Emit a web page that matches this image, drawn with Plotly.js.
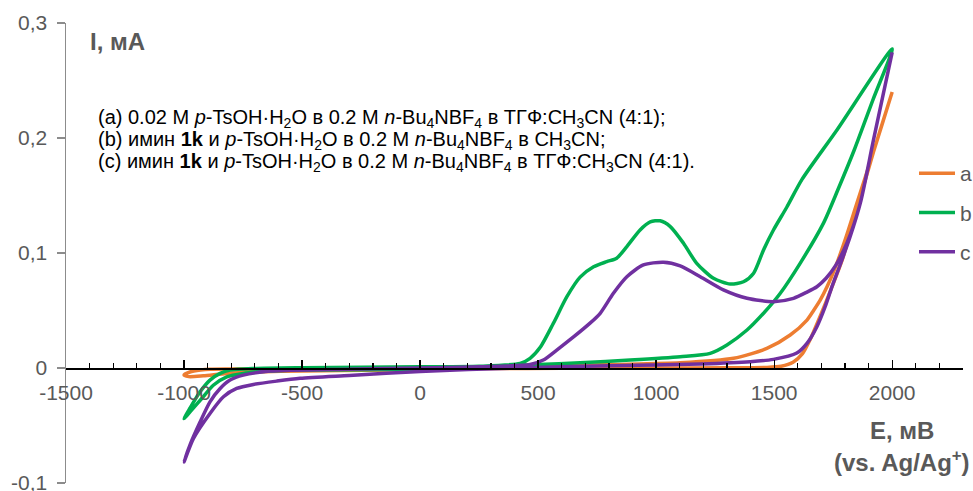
<!DOCTYPE html>
<html>
<head>
<meta charset="utf-8">
<script src="https://cdn.plot.ly/plotly-3.0.1.min.js"></script>
<style>html,body{margin:0;padding:0;background:#fff;}#chart{width:973px;height:491px;}</style>
</head>
<body>
<div id="chart"></div>
<script>
// Series a (orange)
const xA = [-1000, -975, -930, -890, -800, -600, -300, 0, 300, 600, 1000, 1300, 1469, 1530, 1580, 1620, 1653, 1695, 1740, 1790, 1850, 1921, 2000, 1921, 1850, 1800, 1760, 1725, 1695, 1667, 1639, 1568, 1469, 1328, 1102, 800, 509, 0, -500, -700, -819, -918, -980, -1000];
const yA = [-0.006, -0.0035, -0.0018, -0.001, -0.0008, -0.0006, -0.0005, -0.0005, -0.0004, -0.0003, 0.0, 0.0002, 0.0005, 0.0015, 0.005, 0.0125, 0.025, 0.045, 0.068, 0.095, 0.138, 0.188, 0.240, 0.188, 0.143, 0.111, 0.088, 0.071, 0.059, 0.05, 0.0417, 0.0287, 0.017, 0.0084, 0.0045, 0.003, 0.0015, -0.0015, -0.0025, -0.0035, -0.0047, -0.0068, -0.0075, -0.006];
// Series b (green)
const xB = [-1000, -975, -932, -890, -847, -805, -706, -500, 0, 250, 424, 466, 509, 565, 622, 678, 735, 791, 833, 876, 932, 975, 1017, 1060, 1116, 1172, 1243, 1314, 1370, 1413, 1455, 1497, 1554, 1618, 1766, 2000, 1920, 1840, 1770, 1709, 1610, 1526, 1455, 1385, 1300, 1229, 1102, 890, 678, 501, 250, 0, -508, -635, -749, -819, -876, -925, -970, -1000];
const yB = [-0.044, -0.035, -0.0207, -0.0105, -0.0047, -0.0018, -0.0004, 0.0003, 0.001, 0.0015, 0.004, 0.0084, 0.018, 0.039, 0.062, 0.079, 0.088, 0.0925, 0.0955, 0.1056, 0.120, 0.127, 0.128, 0.123, 0.1085, 0.091, 0.078, 0.073, 0.075, 0.0824, 0.1027, 0.120, 0.140, 0.164, 0.207, 0.2775, 0.234, 0.190, 0.155, 0.126, 0.091, 0.065, 0.0476, 0.033, 0.020, 0.0127, 0.0098, 0.0069, 0.0045, 0.003, 0.001, -0.001, -0.0018, -0.0027, -0.0047, -0.0077, -0.015, -0.0265, -0.037, -0.044];
// Series c (purple)
const xC = [-1000, -975, -932, -890, -847, -805, -749, -635, -300, 0, 254, 466, 522, 579, 650, 720, 763, 819, 876, 946, 1031, 1102, 1187, 1285, 1385, 1497, 1582, 1639, 1681, 1720, 1760, 1808, 1865, 1921, 2000, 1921, 1865, 1820, 1780, 1745, 1716, 1681, 1639, 1596, 1497, 1399, 1187, 800, 400, 0, -300, -508, -607, -706, -777, -833, -890, -960, -1000];
const yC = [-0.0817, -0.067, -0.047, -0.0294, -0.0178, -0.0105, -0.0062, -0.0027, -0.001, 0.0, 0.001, 0.003, 0.0069, 0.0156, 0.027, 0.039, 0.0476, 0.065, 0.0794, 0.0896, 0.092, 0.0888, 0.0794, 0.0679, 0.0606, 0.0577, 0.0606, 0.066, 0.0707, 0.078, 0.089, 0.1085, 0.1434, 0.1985, 0.2745, 0.1985, 0.1434, 0.113, 0.09, 0.0707, 0.0533, 0.0359, 0.0214, 0.013, 0.0075, 0.0054, 0.0035, 0.002, 0.0, -0.003, -0.0065, -0.009, -0.0114, -0.0143, -0.0178, -0.025, -0.0395, -0.0613, -0.0817];

const seriesNames = ['a', 'b', 'c'];
const seriesColors = ['#ED7D31', '#00B050', '#7030A0'];

const xTickVals = [-1500, -1000, -500, 0, 500, 1000, 1500, 2000];
const xTickText = ['-1500', '-1000', '-500', '0', '500', '1000', '1500', '2000'];
const yTickVals = [-0.1, 0, 0.1, 0.2, 0.3];
const yTickText = ['-0,1', '0', '0,1', '0,2', '0,3'];

const noteLines = [
  '(a) 0.02 M <i>p</i>-TsOH·H<sub>2</sub>O в 0.2 M <i>n</i>-Bu<sub>4</sub>NBF<sub>4</sub> в ТГФ:CH<sub>3</sub>CN (4:1);',
  '(b) имин <b>1k</b> и <i>p</i>-TsOH·H<sub>2</sub>O в 0.2 M <i>n</i>-Bu<sub>4</sub>NBF<sub>4</sub> в CH<sub>3</sub>CN;',
  '(c) имин <b>1k</b> и <i>p</i>-TsOH·H<sub>2</sub>O в 0.2 M <i>n</i>-Bu<sub>4</sub>NBF<sub>4</sub> в ТГФ:CH<sub>3</sub>CN (4:1).'
];

const FONT = 'Liberation Sans, Arial, sans-serif';
const GREY = '#595959';

const xs = [xA, xB, xC], ys = [yA, yB, yC];
const traces = xs.map((x, i) => ({
  type: 'scatter', mode: 'lines', x: x, y: ys[i], name: seriesNames[i],
  legendgroup: 'g' + i,
  line: {color: seriesColors[i], width: 3.5, shape: 'spline', smoothing: 0.7},
  hoverinfo: 'skip'
}));

// plot area: x 66..963, y 23..483
const W = 973, H = 491, L = 66, R = 10, T = 23, B = 8;
const pw = W - L - R, ph = H - T - B;
const px = v => (v - L) / pw;
const py = v => (H - B - v) / ph;

const annotations = [
  {text: '<b>I, мА</b>', x: px(88), y: py(42), xanchor: 'left', yanchor: 'middle', font: {size: 24, color: GREY, family: FONT}},
  {text: '<b>E, мВ</b>', x: px(902), y: py(430), xanchor: 'center', yanchor: 'middle', font: {size: 24, color: GREY, family: FONT}},
  {text: '<b>(vs. Ag/Ag<sup>+</sup>)</b>', x: px(902), y: py(461), xanchor: 'center', yanchor: 'middle', font: {size: 24, color: GREY, family: FONT}}
].concat(noteLines.map((t, i) => ({
  text: t, x: px(96), y: py(118 + 22 * i), xanchor: 'left', yanchor: 'middle', align: 'left',
  font: {size: 20, color: '#000000', family: FONT}
})));
annotations.forEach(a => { a.xref = 'paper'; a.yref = 'paper'; a.showarrow = false; });

const layout = {
  width: W, height: H,
  margin: {l: L, r: R, t: T, b: B, pad: 0, autoexpand: false},
  paper_bgcolor: '#ffffff', plot_bgcolor: '#ffffff',
  font: {family: FONT, size: 21, color: GREY},
  showlegend: true,
  legend: {x: px(914), xanchor: 'left', y: py(153), yanchor: 'top', bgcolor: 'rgba(0,0,0,0)',
           font: {size: 21, color: GREY, family: FONT}, tracegroupgap: 9, itemwidth: 36},
  xaxis: {
    range: [-1500, 2300], anchor: 'free', position: 0.25, automargin: false,
    showgrid: false, zeroline: false,
    showline: true, linecolor: '#000000', linewidth: 1.5,
    tickmode: 'array', tickvals: xTickVals, ticktext: xTickText,
    ticks: 'inside', ticklen: 8, tickwidth: 1.3, tickcolor: '#000000',
    minor: {tickmode: 'linear', tick0: -1500, dtick: 100, ticks: 'inside', ticklen: 5, tickwidth: 1.3, tickcolor: '#000000', showgrid: false},
    tickfont: {size: 21, color: GREY, family: FONT},
    ticklabelstandoff: 5
  },
  yaxis: {
    range: [-0.1, 0.3], anchor: 'x', automargin: false,
    showgrid: false, zeroline: false,
    showline: true, linecolor: '#8c8c8c', linewidth: 1.5,
    tickmode: 'array', tickvals: yTickVals, ticktext: yTickText,
    ticks: 'outside', ticklen: 8, tickwidth: 1.3, tickcolor: '#8c8c8c',
    tickfont: {size: 21, color: GREY, family: FONT},
    ticklabelstandoff: 5, ticklabeloverflow: 'allow'
  },
  annotations: annotations
};

Plotly.newPlot('chart', traces, layout, {staticPlot: true, displayModeBar: false});
</script>
</body>
</html>
